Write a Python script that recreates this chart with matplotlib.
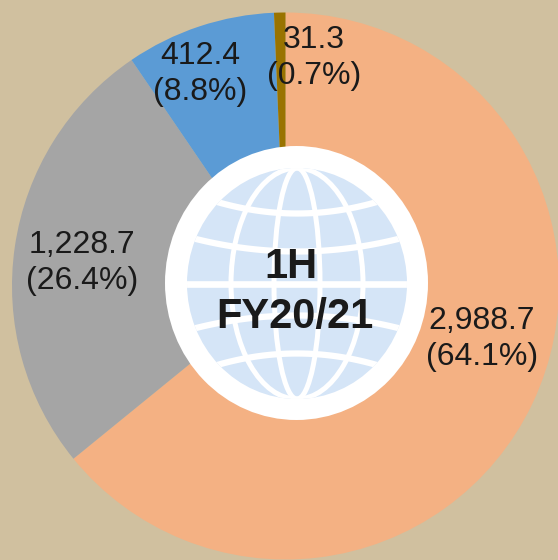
import matplotlib

matplotlib.use("Agg")
import matplotlib.pyplot as plt
import numpy as np
from matplotlib.patches import Ellipse

plt.rcParams["font.family"] = ["Liberation Sans", "DejaVu Sans"]

# clockwise from 12 o'clock
values = [2988.7, 1228.7, 412.4, 31.3]
value_labels = ["2,988.7", "1,228.7", "412.4", "31.3"]
share_labels = ["(64.1%)", "(26.4%)", "(8.8%)", "(0.7%)"]
colors = ["#F4B183", "#A5A5A5", "#5B9BD5", "#997300"]
center_lines = ["1H", "FY20/21"]

bg = "#D0C09F"
globe_blue = "#D5E5F7"
text_color = "#1A1A1A"
label_pos = [(482, 339), (82, 263), (200, 74), (314, 58)]


def to_y(py):
    # pixels from the top -> axis coords
    return 560 - py


def draw_globe(ax, cx, cy, rx, ry):
    blue = Ellipse((cx, cy), rx * 2, ry * 2, facecolor=globe_blue, edgecolor="none", zorder=3)
    ax.add_patch(blue)

    # meridians
    for mrx in [23, 66]:
        m = Ellipse((cx, cy), mrx * 2, ry * 2, facecolor="none", edgecolor="white", lw=3.6, zorder=4)
        ax.add_patch(m)
        m.set_clip_path(blue)

    # equator
    l, = ax.plot([cx - rx, cx + rx], [cy, cy], color="white", lw=4.8, zorder=4)
    l.set_clip_path(blue)

    # parallels, bending towards the equator
    xs = np.linspace(-rx, rx, 100)
    for y0, k in [(70, 11 / 78**2), (32, 13 / 103**2)]:
        for sign in [1, -1]:
            l, = ax.plot(cx + xs, cy + sign * (y0 + k * xs**2), color="white", lw=4.5, zorder=4)
            l.set_clip_path(blue)


def plot_all():
    fig = plt.figure(figsize=(5.58, 5.60), dpi=100, facecolor=bg)
    ax = fig.add_axes([0, 0, 1, 1])

    ax.pie(
        values,
        colors=colors,
        startangle=90,
        counterclock=False,
        center=(285.5, to_y(286)),
        radius=273.5,
        frame=True,
        wedgeprops={"linewidth": 0},
    )
    ax.set_xlim(0, 558)
    ax.set_ylim(0, 560)
    ax.set_aspect("auto")
    ax.axis("off")

    # white hole is slightly offset from the pie centre
    ax.add_patch(Ellipse((296.5, to_y(283)), 263, 274, facecolor="white", edgecolor="none", zorder=2))
    draw_globe(ax, 297, to_y(283.5), 110, 115.5)

    for (x, y), val, share in zip(label_pos, value_labels, share_labels):
        ax.text(x, to_y(y), f"{val}\n{share}", ha="center", va="center", fontsize=23,
                color=text_color, linespacing=1.28, zorder=5)

    ax.text(291, to_y(267), center_lines[0], ha="center", va="center", fontsize=30,
            fontweight="bold", color=text_color, zorder=5)
    ax.text(295, to_y(317), center_lines[1], ha="center", va="center", fontsize=30,
            fontweight="bold", color=text_color, zorder=5)

    plt.savefig("out.png", dpi=100, facecolor=bg)


if __name__ == "__main__":
    plot_all()
